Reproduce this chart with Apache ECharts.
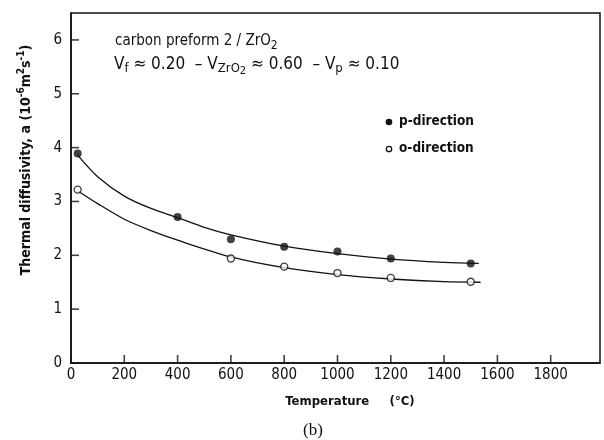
<!DOCTYPE html>
<html>
<head>
<meta charset="utf-8">
<script src="https://cdn.jsdelivr.net/npm/echarts@6/dist/echarts.min.js"></script>
<style>html,body{margin:0;padding:0;background:#fff}#c{width:604px;height:440px}</style>
</head>
<body>
<div id="c"></div>
<script>
// Measured thermal diffusivity (10^-6 m^2 s^-1) vs temperature (°C)
const pTemps = [25, 400, 600, 800, 1000, 1200, 1500];
const pValues = [3.89, 2.71, 2.30, 2.16, 2.07, 1.94, 1.85];
const oTemps = [25, 600, 800, 1000, 1200, 1500];
const oValues = [3.22, 1.94, 1.79, 1.67, 1.58, 1.51];
// Fitted curves drawn through the data
const pFitTemps = [25, 100, 200, 300, 400, 500, 600, 800, 1000, 1200, 1400, 1530];
const pFitValues = [3.86, 3.46, 3.10, 2.87, 2.70, 2.52, 2.38, 2.17, 2.03, 1.93, 1.87, 1.85];
const oFitTemps = [25, 100, 200, 300, 400, 600, 800, 1000, 1200, 1400, 1537];
const oFitValues = [3.20, 2.96, 2.67, 2.46, 2.28, 1.97, 1.77, 1.64, 1.56, 1.51, 1.50];
// Axis tick positions and labels
const xTicks = [0, 200, 400, 600, 800, 1000, 1200, 1400, 1600, 1800];
const xTickLabels = ['0','200','400','600','800','1000','1200','1400','1600','1800'];
const yTicks = [0, 1, 2, 3, 4, 5, 6];

const font = '"DejaVu Sans Condensed", "DejaVu Sans", sans-serif';
const pair = (xs, ys) => xs.map((x, i) => [x, ys[i]]);

const chart = echarts.init(document.getElementById('c'));
chart.setOption({
  animation: false,
  grid: { left: 71, right: 4, top: 13, bottom: 77, show: true, borderColor: '#111', borderWidth: 1.5 },
  xAxis: {
    type: 'value', min: 0, max: 1985, interval: 200,
    axisLine: { lineStyle: { color: '#111', width: 1.5 } },
    axisTick: { show: false },
    splitLine: { show: false },
    axisLabel: {
      color: '#111', fontFamily: font, fontSize: 15, margin: 5,
      showMaxLabel: false,
      formatter: v => { const i = xTicks.indexOf(v); return i >= 0 ? xTickLabels[i] : ''; }
    }
  },
  yAxis: {
    type: 'value', min: 0, max: 6.5, interval: 1,
    axisLine: { lineStyle: { color: '#111', width: 1.5 } },
    axisTick: { show: false },
    splitLine: { show: false },
    axisLabel: {
      color: '#111', fontFamily: font, fontSize: 15, margin: 9,
      formatter: v => (yTicks.indexOf(v) >= 0 ? String(v) : '')
    }
  },
  series: [
    { type: 'line', data: pair(pFitTemps, pFitValues), smooth: 0.3, showSymbol: false,
      lineStyle: { color: '#111', width: 1.3 }, z: 1 },
    { type: 'line', data: pair(oFitTemps, oFitValues), smooth: 0.3, showSymbol: false,
      lineStyle: { color: '#111', width: 1.3 }, z: 1 },
    { type: 'scatter', data: pair(pTemps, pValues), symbol: 'circle', symbolSize: 8,
      itemStyle: { color: '#111' }, z: 3 },
    { type: 'scatter', data: pair(oTemps, oValues), symbol: 'circle', symbolSize: 7,
      itemStyle: { color: '#fff', borderColor: '#111', borderWidth: 1.4 }, z: 3 },
    // Inward tick marks on the temperature axis
    { type: 'scatter', data: xTicks.map(v => [v, 0]), symbol: 'rect', symbolSize: [1.6, 8],
      symbolOffset: [0, -4], clip: false, silent: true, itemStyle: { color: '#111' }, z: 4 },
    // Inward tick marks on the diffusivity axis
    { type: 'scatter', data: yTicks.map(v => [0, v]), symbol: 'rect', symbolSize: [8, 1.6],
      symbolOffset: [4, 0], clip: false, silent: true, itemStyle: { color: '#111' }, z: 4 }
  ],
  graphic: [
    { type: 'text', x: 26, y: 160, rotation: Math.PI / 2,
      style: { text: '{t|Thermal diffusivity, a (10}{sup|-6}{t|m}{sup|2}{t|s}{sup|-1}{t|)}',
        align: 'center', verticalAlign: 'middle',
        rich: {
          t: { fontFamily: font, fontSize: 14, fontWeight: 'bold', fill: '#111' },
          sup: { fontFamily: font, fontSize: 10, fontWeight: 'bold', fill: '#111', padding: [0, 0, 9, 0] }
        } } },
    { type: 'text', left: 115, top: 34,
      style: { text: '{a|carbon preform 2 / ZrO}{s|2}',
        rich: { a: { fontFamily: font, fontSize: 15, fill: '#111' },
                s: { fontFamily: font, fontSize: 12, fill: '#111', padding: [8, 0, 0, 0] } } } },
    { type: 'text', left: 114, top: 56,
      style: { text: '{a|V}{s|f}{a| ≈ 0.20  – V}{s|ZrO}{s2|2}{a| ≈ 0.60  – V}{s|p}{a| ≈ 0.10}',
        rich: { a: { fontFamily: font, fontSize: 17, fill: '#111' },
                s: { fontFamily: font, fontSize: 13, fill: '#111', padding: [9, 0, 0, 0] },
                s2: { fontFamily: font, fontSize: 11, fill: '#111', padding: [14, 0, 0, 0] } } } },
    { type: 'circle', shape: { cx: 389, cy: 122, r: 3.3 }, style: { fill: '#111' } },
    { type: 'text', left: 399, top: 114,
      style: { text: 'p-direction', fontFamily: font, fontSize: 13.5, fontWeight: 'bold', fill: '#111' } },
    { type: 'circle', shape: { cx: 389, cy: 149, r: 2.7 }, style: { fill: '#fff', stroke: '#111', lineWidth: 1.3 } },
    { type: 'text', left: 399, top: 141,
      style: { text: 'o-direction', fontFamily: font, fontSize: 13.5, fontWeight: 'bold', fill: '#111' } },
    { type: 'text', x: 350, y: 402,
      style: { text: 'Temperature     (°C)', align: 'center', verticalAlign: 'middle',
        fontFamily: font, fontSize: 13, fontWeight: 'bold', fill: '#111' } },
    { type: 'text', x: 313, y: 431,
      style: { text: '(b)', align: 'center', verticalAlign: 'middle',
        fontFamily: '"Liberation Serif", serif', fontSize: 17, fill: '#111' } }
  ]
});
</script>
</body>
</html>
